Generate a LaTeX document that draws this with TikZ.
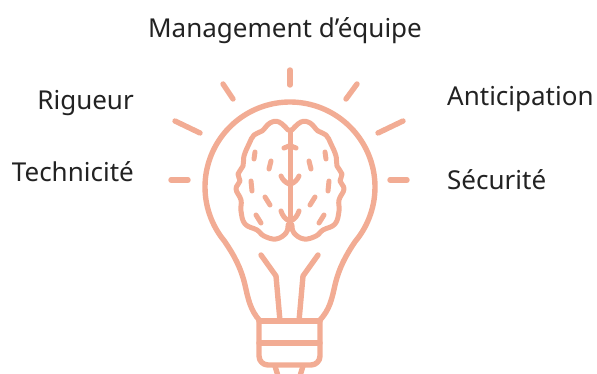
\documentclass[tikz,border=0pt]{standalone}
\usepackage{fontspec}
\setmainfont{Noto Sans}
\usepackage{xcolor}
\definecolor{bulb-salmon}{HTML}{F2AC94}
\definecolor{label-dark}{HTML}{222222}
\tikzset{
	bulbline/.style={line width=5.4pt, bulb-salmon, line cap=round, line join=round},
	brainline/.style={line width=5pt, bulb-salmon, line cap=round, line join=round},
	labeltext/.style={inner sep=0pt, text=label-dark, font=\fontsize{26}{26}\selectfont}
}
\begin{document}
\begin{tikzpicture}[x=1pt, y=-1pt]
	\useasboundingbox (0,0) rectangle (597,374);

	\node[labeltext, anchor=base] at (285,38) (management) {Management d\symbol{39}équipe};
	\node[labeltext, anchor=base east] at (134,110) (rigueur) {Rigueur};
	\node[labeltext, anchor=base east] at (134,182) (technicite) {Technicité};
	\node[labeltext, anchor=base west] at (447,106) (anticipation) {Anticipation};
	\node[labeltext, anchor=base west] at (447,190) (securite) {Sécurité};

	% rays
	\draw[bulbline] (290,70) -- (290,85);
	\draw[bulbline] (223,84) -- (233,99);
	\draw[bulbline] (357,84) -- (346,99);
	\draw[bulbline] (175,121) -- (200,133);
	\draw[bulbline] (403,121) -- (378,133);
	\draw[bulbline] (171,180) -- (188,180);
	\draw[bulbline] (390,180) -- (407,180);

	% glass
	\draw[bulbline] (260,321) .. controls (250,310) and (248,298) .. (245,285) .. controls (241,268) and (234,255) .. (225,242)
		-- plot[domain=140:400, samples=60, smooth] ({290+85*cos(\x)},{187+85*sin(\x)})
		.. controls (346,255) and (339,268) .. (335,285) .. controls (332,298) and (330,310) .. (319,321);

	% filaments
	\draw[bulbline] (261,255) -- (276,276) -- (280,321);
	\draw[bulbline] (318,255) -- (303,276) -- (299,321);

	% socket
	\draw[bulbline, rounded corners=9pt] (259,321) -- (259,365) -- (320,365) -- (320,321);
	\draw[bulbline] (259,321) -- (320,321);
	\draw[bulbline] (259,343) -- (320,343);
	\draw[bulbline] (275,366) -- (278,376);
	\draw[bulbline] (303,366) -- (300,376);

	% brain
	\draw[brainline] (290,130) -- (290,228);
	\foreach \s in {1,-1} {
		\begin{scope}[xshift=290pt, xscale=\s, xshift=-290pt]
			\draw[brainline] plot[smooth, tension=0.7] coordinates {(288,225) (286,233) (276,239) (264,236) (257,230) (245,224) (241,211) (241,200) (236,189) (240,181) (238,174) (243,166) (244,156) (249,144) (254,135) (262,131) (270,123) (279,122) (288,130)};
			\draw[brainline] (255,152) -- (254,159);
			\draw[brainline] (271,161) -- (269,169);
			\draw[brainline] (251,181) -- (252,191);
			\draw[brainline] (265,197) -- (270,205);
			\draw[brainline] (256,215) -- (261,223);
			\draw[brainline] (284,148) -- (289,146);
			\draw[brainline] (281,176) to[bend right=20] (289,184);
			\draw[brainline] (281,211) to[bend right=20] (289,221);
		\end{scope}
	}
\end{tikzpicture}
\end{document}
